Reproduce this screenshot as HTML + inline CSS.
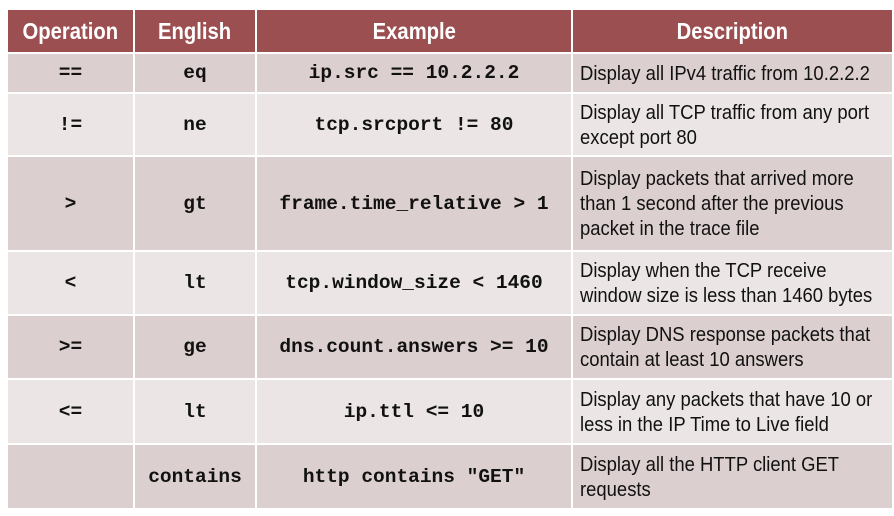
<!DOCTYPE html>
<html><head><style>
body{margin:0;width:894px;height:516px;background:#fff;position:relative;overflow:hidden}
.c{position:absolute;display:flex;align-items:center;box-sizing:border-box}
.h{background:#9b4f50;color:#fff;font:bold 23px "Liberation Sans",sans-serif;justify-content:center}
.h span{display:inline-block;transform:scaleX(0.88)}
.m{font:bold 19.5px "Liberation Mono",monospace;color:#111;justify-content:center;white-space:pre}
.d{font:20.5px/25px "Liberation Sans",sans-serif;color:#111;padding-left:7px}
.d span{display:block;flex-shrink:0;white-space:nowrap;transform:scaleX(0.9);transform-origin:left center;width:370px}
.a{background:#dccfcf}.b{background:#ebe6e5}
</style></head><body>
<div class="c h" style="left:8px;top:10px;width:125px;height:42px"><span>Operation</span></div>
<div class="c h" style="left:135px;top:10px;width:120px;height:42px"><span>English</span></div>
<div class="c h" style="left:257px;top:10px;width:314px;height:42px"><span>Example</span></div>
<div class="c h" style="left:573px;top:10px;width:319px;height:42px"><span>Description</span></div>
<script>
const rows=[[54,38,"==","eq","ip.src == 10.2.2.2",["Display all IPv4 traffic from 10.2.2.2"]],
[94,61,"!=","ne","tcp.srcport != 80",["Display all TCP traffic from any port","except port 80"]],
[157,93,">","gt","frame.time_relative > 1",["Display packets that arrived more","than 1 second after the previous","packet in the trace file"]],
[252,62,"<","lt","tcp.window_size < 1460",["Display when the TCP receive","window size is less than 1460 bytes"]],
[316,62,">=","ge","dns.count.answers >= 10",["Display DNS response packets that","contain at least 10 answers"]],
[380,63,"<=","lt","ip.ttl <= 10",["Display any packets that have 10 or","less in the IP Time to Live field"]],
[445,63,"","contains",'http contains "GET"',["Display all the HTTP client GET","requests"]]];
let h="";
rows.forEach((r,i)=>{const cl=i%2?"b":"a";const e=s=>s.replace(/&/g,"&amp;").replace(/</g,"&lt;").replace(/>/g,"&gt;");
h+=`<div class="c m ${cl}" style="left:8px;top:${r[0]}px;width:125px;height:${r[1]}px">${e(r[2])}</div>`;
h+=`<div class="c m ${cl}" style="left:135px;top:${r[0]}px;width:120px;height:${r[1]}px">${e(r[3])}</div>`;
h+=`<div class="c m ${cl}" style="left:257px;top:${r[0]}px;width:314px;height:${r[1]}px">${e(r[4])}</div>`;
h+=`<div class="c d ${cl}" style="left:573px;top:${r[0]}px;width:319px;height:${r[1]}px"><span>${r[5].map(e).join("<br>")}</span></div>`;});
document.write(h);
</script>
</body></html>
